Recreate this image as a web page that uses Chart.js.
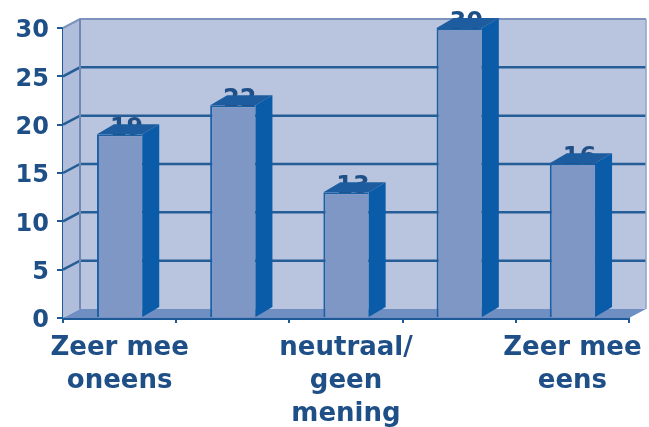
<!DOCTYPE html>
<html><head><meta charset="utf-8">
<style>html,body{margin:0;padding:0;background:#fff}canvas{display:block;filter:blur(0.6px)}</style>
<script src="https://cdn.jsdelivr.net/npm/chart.js@4"></script></head>
<body><canvas id="c" width="649" height="427"></canvas>
<script>
const categories=[["Zeer mee","oneens"],"",["neutraal/","geen","mening"],"",["Zeer mee","eens"]];
const values=[19,22,13,30,16];
const yTicks=[0,5,10,15,20,25,30];
const INK='#1f4f87';
const WALL_DX=17,WALL_DY=-9,BAR_DX=17,BAR_DY=-10;
const poly=(ctx,pts,fill)=>{ctx.beginPath();pts.forEach((p,i)=>i?ctx.lineTo(p[0],p[1]):ctx.moveTo(p[0],p[1]));ctx.closePath();ctx.fillStyle=fill;ctx.fill();};
const box3d={id:'box3d',
 beforeDatasetsDraw(chart){
  const {ctx,scales:{x,y}}=chart;const l=x.left,r=x.right,b=y.getPixelForValue(0),t=y.getPixelForValue(30);
  ctx.save();
  poly(ctx,[[l+WALL_DX,t+WALL_DY],[r+WALL_DX,t+WALL_DY],[r+WALL_DX,b+WALL_DY],[l+WALL_DX,b+WALL_DY]],'#b9c5df');
  poly(ctx,[[l,t],[l+WALL_DX,t+WALL_DY],[l+WALL_DX,b+WALL_DY],[l,b]],'#b0bedb');
  poly(ctx,[[l,b],[l+WALL_DX,b+WALL_DY],[r+WALL_DX,b+WALL_DY],[r,b]],'#6f8ec2');
  yTicks.forEach(v=>{const p=y.getPixelForValue(v);ctx.lineWidth=(v===30)?2:2.5;ctx.strokeStyle=(v===30)?'#7d93bd':'#255d96';
   if(v===0)return;
   ctx.beginPath();ctx.moveTo(l,p);ctx.lineTo(l+WALL_DX,p+WALL_DY);ctx.lineTo(r+WALL_DX,p+WALL_DY);ctx.stroke();});
  ctx.strokeStyle='#6f88b5';ctx.lineWidth=2;
  ctx.beginPath();ctx.moveTo(l+WALL_DX,t+WALL_DY);ctx.lineTo(l+WALL_DX,b+WALL_DY);ctx.stroke();
  ctx.lineWidth=1.5;ctx.strokeStyle='#8ea2c8';
  ctx.beginPath();ctx.moveTo(r+WALL_DX,t+WALL_DY);ctx.lineTo(r+WALL_DX,b+WALL_DY);ctx.stroke();
  ctx.restore();
 },
 afterDatasetsDraw(chart){
  const {ctx}=chart;const bars=chart.getDatasetMeta(0).data;
  ctx.save();
  bars.forEach((bar,i)=>{
   const h=bar.width/2,L=bar.x-h,R=bar.x+h,T=bar.y,B=bar.base;
   ctx.font='bold 24px "DejaVu Sans"';ctx.fillStyle=INK;ctx.textAlign='center';ctx.textBaseline='alphabetic';
   ctx.fillText(String(values[i]),bar.x+7,T+1);
   poly(ctx,[[L,T],[L+BAR_DX,T+BAR_DY],[R+BAR_DX,T+BAR_DY],[R,T]],'#1d5d9f');
   poly(ctx,[[R,T],[R+BAR_DX,T+BAR_DY],[R+BAR_DX,B+BAR_DY],[R,B]],'#0a5ca8');
  });
  ctx.restore();
 }};
new Chart(document.getElementById('c'),{type:'bar',
 data:{labels:categories,datasets:[{data:values,backgroundColor:'#7f97c4',borderColor:'#1b5fa5',borderWidth:{left:2,top:2,right:0,bottom:0},barPercentage:0.4,categoryPercentage:1}]},
 plugins:[box3d],
 options:{responsive:false,animation:false,devicePixelRatio:1,
  layout:{padding:{top:28,right:20,left:0,bottom:0}},
  plugins:{legend:{display:false},tooltip:{enabled:false},title:{display:false}},
  scales:{
   x:{offset:true,afterFit(s){s.height=109;s.paddingLeft=0;s.paddingRight=0;},
    grid:{offset:true,drawOnChartArea:false,drawTicks:true,tickLength:5,color:'#1f5a98',lineWidth:2},
    border:{color:'#1f5a98',width:3},
    ticks:{autoSkip:false,maxRotation:0,minRotation:0,padding:9,color:INK,font:{family:'"DejaVu Sans"',size:26,weight:'bold',lineHeight:1.27}}},
   y:{min:0,max:30,afterFit(s){s.width=63;},afterBuildTicks(s){s.ticks=yTicks.map(v=>({value:v}));},
    grid:{drawOnChartArea:false,drawTicks:true,tickLength:6,color:'#1f5a98',lineWidth:2},
    border:{color:'#1f5a98',width:3},
    ticks:{padding:8,labelOffset:3,color:INK,font:{family:'"DejaVu Sans"',size:24,weight:'bold'}}}
  }}});
</script></body></html>
